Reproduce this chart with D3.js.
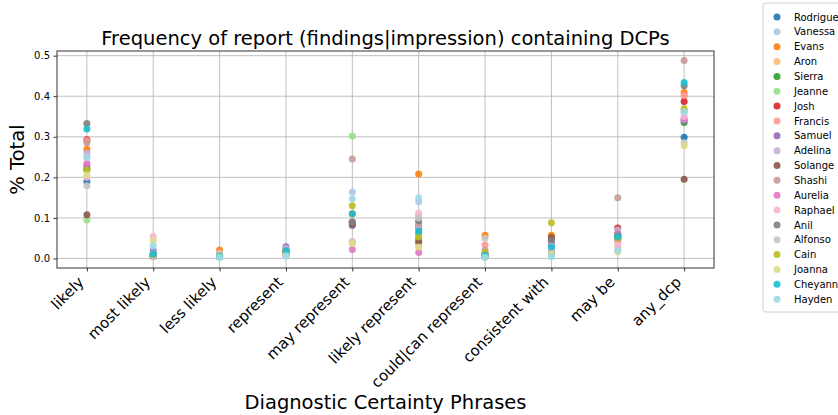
<!DOCTYPE html>
<html>
<head>
	<meta charset="utf-8">
	<title>DCP frequency</title>
	<script src="https://d3js.org/d3.v7.min.js"></script>
	<style type="text/css">
		body { margin: 0; background: #fff; }
		svg text { font-family: 'DejaVu Sans', sans-serif; fill: #000; }
	</style>
</head>
<body>
	<script type="text/javascript">
		var w = 838;
		var h = 415;

		var phrases = ['likely', 'most likely', 'less likely', 'represent', 'may represent',
			'likely represent', 'could|can represent', 'consistent with', 'may be', 'any_dcp'];

		var names = ['Rodriguez', 'Vanessa', 'Evans', 'Aron', 'Sierra', 'Jeanne', 'Josh', 'Francis',
			'Samuel', 'Adelina', 'Solange', 'Shashi', 'Aurelia', 'Raphael', 'Anil', 'Alfonso',
			'Cain', 'Joanna', 'Cheyanne', 'Hayden'];

		// one row per reader, one value per phrase (same order as phrases)
		var values = [
			[0.190, 0.006, 0.004, 0.012, 0.090, 0.060, 0.005, 0.030, 0.050, 0.299], // Rodriguez
			[0.250, 0.010, 0.005, 0.015, 0.164, 0.140, 0.006, 0.020, 0.045, 0.360], // Vanessa
			[0.269, 0.008, 0.021, 0.018, 0.110, 0.208, 0.057, 0.057, 0.060, 0.409], // Evans
			[0.220, 0.005, 0.010, 0.010, 0.042, 0.030, 0.004, 0.010, 0.030, 0.400], // Aron
			[0.220, 0.006, 0.005, 0.012, 0.085, 0.046, 0.006, 0.015, 0.055, 0.335], // Sierra
			[0.095, 0.004, 0.003, 0.008, 0.302, 0.060, 0.003, 0.005, 0.050, 0.365], // Jeanne
			[0.293, 0.007, 0.006, 0.020, 0.090, 0.075, 0.010, 0.047, 0.075, 0.387], // Josh
			[0.290, 0.006, 0.008, 0.010, 0.090, 0.105, 0.033, 0.040, 0.040, 0.402], // Francis
			[0.228, 0.019, 0.007, 0.029, 0.081, 0.080, 0.008, 0.045, 0.050, 0.340], // Samuel
			[0.260, 0.012, 0.006, 0.025, 0.090, 0.079, 0.007, 0.040, 0.070, 0.343], // Adelina
			[0.108, 0.005, 0.010, 0.015, 0.085, 0.040, 0.005, 0.052, 0.060, 0.195], // Solange
			[0.285, 0.007, 0.013, 0.010, 0.245, 0.087, 0.020, 0.035, 0.150, 0.488], // Shashi
			[0.235, 0.008, 0.005, 0.012, 0.022, 0.015, 0.006, 0.035, 0.060, 0.345], // Aurelia
			[0.200, 0.054, 0.008, 0.010, 0.040, 0.112, 0.010, 0.020, 0.034, 0.350], // Raphael
			[0.333, 0.006, 0.006, 0.012, 0.089, 0.093, 0.010, 0.045, 0.055, 0.426], // Anil
			[0.179, 0.004, 0.013, 0.006, 0.040, 0.100, 0.050, 0.030, 0.020, 0.285], // Alfonso
			[0.218, 0.010, 0.006, 0.015, 0.130, 0.053, 0.015, 0.088, 0.050, 0.369], // Cain
			[0.206, 0.044, 0.004, 0.013, 0.037, 0.028, 0.005, 0.010, 0.016, 0.278], // Joanna
			[0.319, 0.011, 0.005, 0.019, 0.110, 0.067, 0.008, 0.028, 0.054, 0.434], // Cheyanne
			[0.249, 0.031, 0.003, 0.007, 0.147, 0.150, 0.003, 0.005, 0.020, 0.362]  // Hayden
		];

		var yTicks = [0.0, 0.1, 0.2, 0.3, 0.4, 0.5];

		var colors = ['#1f77b4', '#aec7e8', '#ff7f0e', '#ffbb78', '#2ca02c', '#98df8a', '#d62728', '#ff9896',
			'#9467bd', '#c5b0d5', '#8c564b', '#c49c94', '#e377c2', '#f7b6d2', '#7f7f7f', '#c7c7c7',
			'#bcbd22', '#dbdb8d', '#17becf', '#9edae5'];

		var plot = { left: 57, right: 714, top: 51, bottom: 268 };

		var svg = d3.select('body')
			.append('svg')
			.attr('width', w)
			.attr('height', h);

		var x = d3.scaleLinear()
			.domain([-0.45, phrases.length - 1 + 0.45])
			.range([plot.left, plot.right]);

		var y = d3.scaleLinear()
			.domain([-0.0235, 0.5115])
			.range([plot.bottom, plot.top]);

		var color = d3.scaleOrdinal().domain(names).range(colors);

		// grid
		var grid = svg.append('g');
		grid.selectAll('line.gx')
			.data(phrases)
			.enter()
			.append('line')
			.attr('x1', function (d, i) { return x(i); })
			.attr('x2', function (d, i) { return x(i); })
			.attr('y1', plot.top)
			.attr('y2', plot.bottom)
			.attr('stroke', '#b0b0b0')
			.attr('stroke-opacity', 0.8)
			.attr('stroke-width', 1);
		grid.selectAll('line.gy')
			.data(yTicks)
			.enter()
			.append('line')
			.attr('x1', plot.left)
			.attr('x2', plot.right)
			.attr('y1', function (d) { return y(d); })
			.attr('y2', function (d) { return y(d); })
			.attr('stroke', '#b0b0b0')
			.attr('stroke-opacity', 0.8)
			.attr('stroke-width', 1);

		// points, one group per reader
		names.forEach(function (name, k) {
			svg.append('g')
				.selectAll('circle')
				.data(values[k])
				.enter()
				.append('circle')
				.attr('cx', function (d, i) { return x(i); })
				.attr('cy', function (d) { return y(d); })
				.attr('r', 3.5)
				.attr('fill', color(name))
				.attr('fill-opacity', 0.9);
		});

		// frame
		svg.append('rect')
			.attr('x', plot.left)
			.attr('y', plot.top)
			.attr('width', plot.right - plot.left)
			.attr('height', plot.bottom - plot.top)
			.attr('fill', 'none')
			.attr('stroke', '#333')
			.attr('stroke-width', 1);

		// y axis
		var yAxis = svg.append('g')
			.attr('transform', 'translate(' + plot.left + ',0)')
			.call(d3.axisLeft(y).tickValues(yTicks).tickFormat(d3.format('.1f')).tickSize(3.5).tickPadding(3.5));
		yAxis.select('.domain').remove();
		yAxis.selectAll('text').style('font-size', '10px').attr('fill', '#222');
		yAxis.selectAll('line').attr('stroke', '#333');

		// x axis
		var xAxis = svg.append('g')
			.attr('transform', 'translate(0,' + plot.bottom + ')')
			.call(d3.axisBottom(x).tickValues(d3.range(phrases.length)).tickFormat(function (i) { return phrases[i]; }).tickSize(3.5));
		xAxis.select('.domain').remove();
		xAxis.selectAll('line').attr('stroke', '#333');
		xAxis.selectAll('text')
			.style('font-size', '15px')
			.attr('fill', '#111')
			.attr('text-anchor', 'end')
			.attr('dy', null)
			.attr('y', 0)
			.attr('transform', 'translate(-2.5,15) rotate(-45)');

		// title and labels
		svg.append('text')
			.attr('x', (plot.left + plot.right) / 2)
			.attr('y', 45)
			.attr('text-anchor', 'middle')
			.style('font-size', '19.5px')
			.text('Frequency of report (findings|impression) containing DCPs');

		svg.append('text')
			.attr('transform', 'translate(24,' + (plot.top + plot.bottom) / 2 + ') rotate(-90)')
			.attr('text-anchor', 'middle')
			.style('font-size', '19.5px')
			.text('% Total');

		svg.append('text')
			.attr('x', (plot.left + plot.right) / 2)
			.attr('y', 409)
			.attr('text-anchor', 'middle')
			.style('font-size', '19.5px')
			.text('Diagnostic Certainty Phrases');

		// legend
		var legend = svg.append('g').attr('transform', 'translate(763,3)');
		legend.append('rect')
			.attr('width', 100)
			.attr('height', 309)
			.attr('rx', 3)
			.attr('fill', '#fff')
			.attr('fill-opacity', 0.8)
			.attr('stroke', '#d0d0d0');
		var items = legend.selectAll('g.item')
			.data(names)
			.enter()
			.append('g')
			.attr('transform', function (d, i) { return 'translate(0,' + (14 + i * 14.85) + ')'; });
		items.append('circle')
			.attr('cx', 14)
			.attr('cy', 0)
			.attr('r', 3.5)
			.attr('fill', function (d) { return color(d); })
			.attr('fill-opacity', 0.9);
		items.append('text')
			.attr('x', 31)
			.attr('y', 3.6)
			.style('font-size', '10px')
			.text(function (d) { return d; });
	</script>
</body>
</html>
